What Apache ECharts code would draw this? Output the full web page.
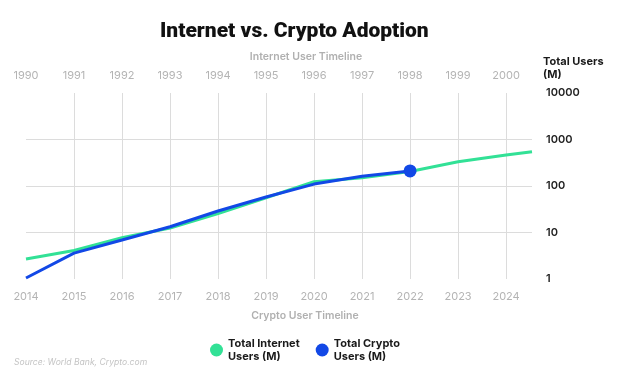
<!DOCTYPE html>
<html>
<head>
<meta charset="utf-8">
<script src="https://cdn.jsdelivr.net/npm/echarts@6/dist/echarts.min.js"></script>
<style>html,body{margin:0;padding:0;background:#fff}#c{width:620px;height:372px}</style>
</head>
<body>
<div id="c"></div>
<script>
// Data
const cryptoYears = [2014, 2015, 2016, 2017, 2018, 2019, 2020, 2021, 2022];
const cryptoUsers = [1.05, 3.6, 6.9, 13.3, 29, 58, 110, 162, 211];
const internetYears = [2014, 2015, 2016, 2017, 2018, 2019, 2020, 2021, 2022, 2023, 2024, 2024.54];
const internetUsers = [2.7, 4.1, 7.7, 12.5, 25.5, 56, 124, 150, 205, 333, 464, 547];
const bottomTicks = [2014, 2024.54];   // crypto timeline extent
const topTicks = [1990, 2000.54];      // internet timeline extent
const yTicks = [1, 10000];

const FONT = 'Inter, "Noto Sans", sans-serif';
const GREEN = '#32e196';
const BLUE = '#1248e6';
const GRIDC = '#dcdcdc';

const chart = echarts.init(document.getElementById('c'), null, {renderer: 'canvas'});
const intFmt = v => (Math.abs(v - Math.round(v)) < 1e-6 ? String(Math.round(v)) : '');

chart.setOption({
  animation: false,
  backgroundColor: '#fff',
  title: {
    text: 'Internet vs. Crypto Adoption',
    left: 155, top: 16,
    textStyle: {fontFamily: 'Roboto, Inter, sans-serif', fontSize: 21, fontWeight: 900, color: '#111'}
  },
  grid: {left: 26, right: 88, top: 93, bottom: 93},
  legend: {
    data: ['Total Internet\nUsers (M)', 'Total Crypto\nUsers (M)'],
    left: 205, top: 332,
    icon: 'circle', itemWidth: 13, itemHeight: 13, itemGap: 16,
    textStyle: {fontFamily: FONT, fontSize: 11, fontWeight: 'bold', color: '#1a1a1a', lineHeight: 13}
  },
  xAxis: [
    {
      type: 'value', position: 'bottom', min: bottomTicks[0], max: bottomTicks[1], interval: 1,
      axisLine: {show: false}, axisTick: {show: false},
      axisLabel: {formatter: intFmt, color: '#b4b4b4', fontFamily: FONT, fontSize: 11, margin: 12, showMaxLabel: false},
      splitLine: {show: true, showMinLine: false, showMaxLine: false, lineStyle: {color: GRIDC, width: 1}}
    },
    {
      type: 'value', position: 'top', min: topTicks[0], max: topTicks[1], interval: 1,
      axisLine: {show: false}, axisTick: {show: false},
      axisLabel: {formatter: intFmt, color: '#b4b4b4', fontFamily: FONT, fontSize: 11, margin: 12, showMaxLabel: false},
      splitLine: {show: false}
    }
  ],
  yAxis: {
    type: 'log', logBase: 10, min: yTicks[0], max: yTicks[1], position: 'right',
    axisLine: {show: false}, axisTick: {show: false},
    axisLabel: {formatter: v => String(Math.round(v)), color: '#222', fontFamily: FONT, fontSize: 11, fontWeight: 600, margin: 14},
    splitLine: {show: true, showMinLine: false, showMaxLine: false, lineStyle: {color: GRIDC, width: 1}}
  },
  graphic: [
    {type: 'text', x: 306, y: 57, style: {text: 'Internet User Timeline', fill: '#b0b0b0', font: '600 10.5px ' + FONT, textAlign: 'center', textVerticalAlign: 'middle'}},
    {type: 'text', x: 305, y: 316, style: {text: 'Crypto User Timeline', fill: '#b0b0b0', font: '600 10.5px ' + FONT, textAlign: 'center', textVerticalAlign: 'middle'}},
    {type: 'text', x: 543, y: 62, style: {text: 'Total Users', fill: '#1a1a1a', font: 'bold 11px ' + FONT, textAlign: 'left', textVerticalAlign: 'middle'}},
    {type: 'text', x: 543, y: 75, style: {text: '(M)', fill: '#1a1a1a', font: 'bold 11px ' + FONT, textAlign: 'left', textVerticalAlign: 'middle'}},
    {type: 'text', x: 14, y: 362, style: {text: 'Source: World Bank, Crypto.com', fill: '#c4c4c4', font: 'italic 8.6px ' + FONT, textAlign: 'left', textVerticalAlign: 'middle'}}
  ],
  series: [
    {
      name: 'Total Internet\nUsers (M)', type: 'line', xAxisIndex: 0,
      data: internetYears.map((y, i) => [y, internetUsers[i]]),
      symbol: 'none', color: GREEN,
      lineStyle: {color: GREEN, width: 3}, z: 3
    },
    {
      name: 'Total Crypto\nUsers (M)', type: 'line', xAxisIndex: 0,
      data: cryptoYears.map((y, i) => i === cryptoYears.length - 1
        ? {value: [y, cryptoUsers[i]], symbol: 'circle', symbolSize: 13}
        : {value: [y, cryptoUsers[i]], symbol: 'none'}),
      showSymbol: true, symbol: 'none', color: BLUE,
      itemStyle: {color: BLUE},
      lineStyle: {color: BLUE, width: 3}, z: 4
    }
  ]
});
</script>
</body>
</html>
